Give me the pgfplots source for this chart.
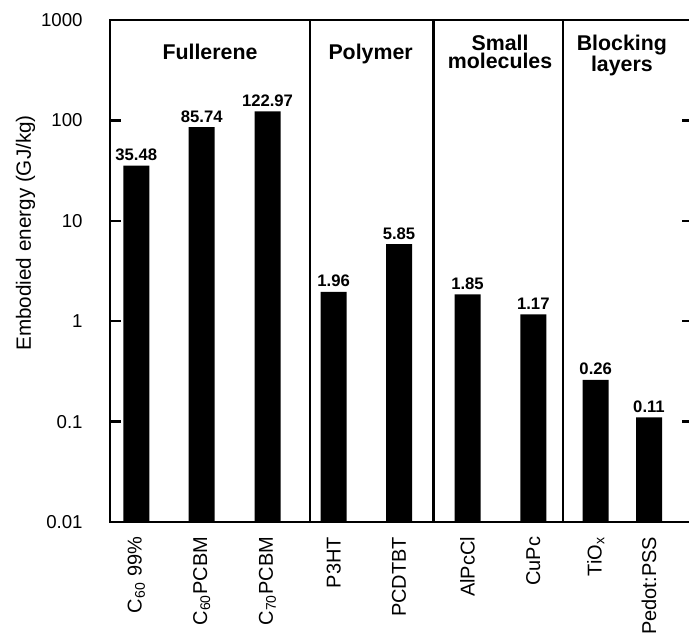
\documentclass[border=0pt]{standalone}
\usepackage{fontspec}
\setmainfont{Liberation Sans}
\usepackage{pgfplots}
\pgfplotsset{compat=1.18}

\begin{document}
\begin{tikzpicture}[x=1pt,y=1pt]
% picture frame (the reference crops the right spine)
\path[use as bounding box] (-82.5,-86.25) rectangle (434.25,391.5);
\clip (-82.5,-86.25) rectangle (434.25,391.5);
\begin{axis}[
    scale only axis,
    width=437.25pt, height=376.5pt,
    xmin=110, xmax=693,
    ymode=log, ymin=0.01, ymax=1000,
    log origin=infty,
    axis on top,
    ytick={0.01,0.1,1,10,100,1000},
    yticklabels={0.01,0.1,1,10,100,1000},
    yminorticks=false,
    ytick pos=both,
    ytick align=inside,
    major tick length=8.5pt,
    y tick style={black, line width=1.8pt},
    axis line style={line width=1.5pt},
    yticklabel style={font=\fontsize{14}{16}\selectfont, xshift=-17pt},
    xtick={136.3,201.7,267.5,333.7,399,467.5,533.3,595.7,649},
    xticklabels={C\textsubscript{60} 99\%, C\textsubscript{60}PCBM, C\textsubscript{70}PCBM,
                 P3HT, PCDTBT, AlPcCl, CuPc, TiO\textsubscript{x}, Pedot:PSS},
    x tick style={draw=none},
    xticklabel style={font=\fontsize{15}{17}\selectfont, rotate=90, anchor=east, inner sep=0pt},
    xticklabel shift=11pt,
    extra x ticks={310,433.6,563.3},
    extra x tick labels={},
    extra x tick style={grid=major, major grid style={black, line width=1.7pt}, major tick length=0pt},
    ylabel={Embodied energy (GJ/kg)},
    ylabel style={font=\fontsize{15.5}{17}\selectfont, at={(axis description cs:-0.145,0.576)}, anchor=center},
]
\addplot[ybar, bar width=26, fill=black, draw=none,
    point meta=explicit symbolic,
    nodes near coords,
    every node near coord/.append style={font=\fontsize{12.5}{14}\bfseries, anchor=south, inner sep=0pt, yshift=3.5pt, black}]
coordinates {
    (136.3,35.48) [35.48]
    (201.7,85.74) [85.74]
    (267.5,122.97) [122.97]
    (333.7,1.96) [1.96]
    (399,5.85) [5.85]
    (467.5,1.85) [1.85]
    (533.3,1.17) [1.17]
    (595.7,0.26) [0.26]
    (649,0.11) [0.11]
};
\begin{scope}[font=\fontsize{16}{13.5}\selectfont\bfseries]
\node[anchor=base] at (rel axis cs:0.1715,0.922) {Fullerene};
\node[anchor=base] at (rel axis cs:0.447,0.922) {Polymer};
\node[anchor=north, align=center, inner sep=0pt] at (rel axis cs:0.669,0.971) {Small\\molecules};
\node[anchor=north, align=center, inner sep=0pt] at (rel axis cs:0.878,0.971) {Blocking\\layers};
\end{scope}
\end{axis}
\end{tikzpicture}
\end{document}
